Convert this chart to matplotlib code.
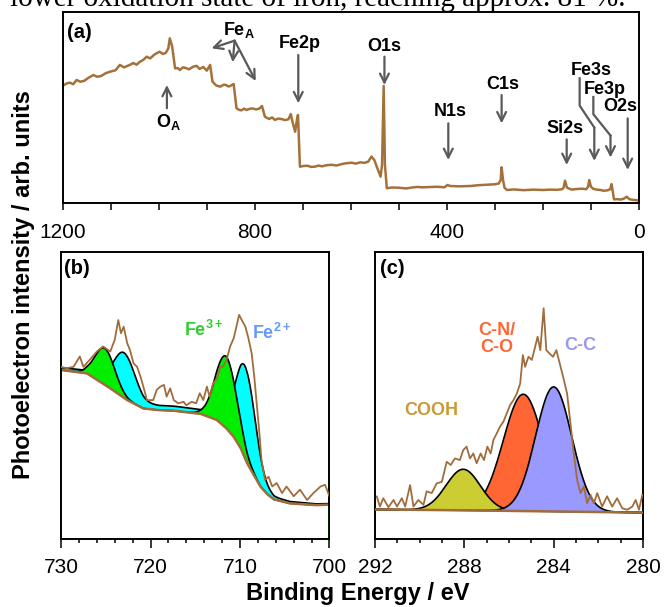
import numpy as np
import matplotlib
matplotlib.use('Agg')
import matplotlib.pyplot as plt
from matplotlib.ticker import MultipleLocator

plt.rcParams['font.family'] = ['Liberation Sans', 'DejaVu Sans']
plt.rcParams['mathtext.fontset'] = 'custom'
plt.rcParams['mathtext.rm'] = 'Liberation Sans'
plt.rcParams['mathtext.bf'] = 'Liberation Sans:bold'

# ---------------- data: (a) survey spectrum ----------------
survey_be = [1200, 1192, 1185, 1178, 1171, 1163, 1155, 1146, 1136, 1128,
             1120, 1110, 1102, 1090, 1081, 1072, 1065, 1058, 1053, 1046,
             1040, 1032, 1025, 1018, 1010, 1004, 998, 991, 985, 980,
             977, 972, 966, 960, 956, 950, 945, 937, 928, 921,
             915, 907, 900, 893, 888, 880, 872, 865, 860, 855,
             851, 844, 838, 833, 828, 822, 817, 811, 805, 797,
             790, 785, 779, 775, 770, 764, 758, 751, 745, 737,
             730, 725, 721, 716, 712, 710, 706, 698, 690, 683,
             675, 667, 660, 650, 640, 630, 620, 610, 598, 590,
             580, 572, 564, 557, 551, 546, 538, 535, 531.6, 529,
             525, 515, 500, 485, 470, 460, 452, 440, 420, 405,
             399, 393, 375, 350, 335, 320, 310, 300, 292, 288,
             286, 283, 280, 275, 260, 240, 220, 200, 185, 170,
             160, 157, 154, 150, 140, 130, 118, 110, 106, 103.5,
             100, 95, 88, 80, 74, 66, 60, 57, 54, 52,
             45, 38, 32, 25.6, 20, 12, 5, 0]
survey_int = [61.3, 62.6, 63.0, 62.2, 64.4, 63.5, 64.0, 65.6, 67.0, 66.1,
              66.5, 68.0, 68.7, 69.5, 72.3, 71.0, 71.8, 72.6, 73.3, 72.4,
              73.8, 75.0, 76.6, 75.7, 77.5, 78.5, 79.2, 78.0, 78.7, 81.0,
              86.2, 82.0, 70.5, 70.6, 69.6, 71.0, 70.8, 70.0, 71.4, 71.8,
              70.2, 71.2, 69.3, 72.3, 63.5, 61.5, 60.9, 61.9, 61.8, 61.0,
              61.3, 62.3, 49.6, 48.8, 48.5, 49.4, 48.7, 49.3, 49.5, 49.0,
              49.5, 50.8, 45.2, 44.6, 44.0, 44.8, 43.5, 44.2, 44.0, 43.4,
              43.8, 46.6, 42.0, 37.3, 44.0, 46.1, 19.0, 19.4, 19.5, 18.9,
              19.0, 19.6, 19.2, 19.8, 20.0, 19.6, 20.3, 20.8, 21.1, 20.6,
              21.3, 21.0, 21.6, 24.3, 22.5, 19.0, 13.8, 20.0, 61.3, 20.0,
              7.7, 8.1, 8.0, 7.6, 8.2, 8.4, 8.2, 8.3, 8.5, 8.2,
              9.4, 8.9, 8.7, 8.9, 9.3, 9.5, 9.6, 9.8, 10.2, 12.0,
              18.7, 12.0, 8.0, 6.8, 7.1, 6.7, 7.0, 6.8, 7.0, 6.9,
              7.2, 8.0, 11.7, 8.0, 7.0, 7.3, 7.5, 7.2, 8.5, 12.0,
              8.5, 7.4, 7.0, 6.8, 6.4, 6.6, 7.2, 9.9, 5.0, 1.9,
              2.0, 1.8, 2.2, 3.3, 2.0, 1.6, 1.5, 1.2]

# labelled arrows of (a): label text, label position, arrow x, arrow tail y, arrow tip y
peak_labels = ['Fe2p', 'O1s', 'N1s', 'C1s', 'Si2s', 'O2s']
peak_label_x = [706, 531, 394, 284, 154, 39.6]
peak_label_y = [83.6, 81.8, 47.8, 61.8, 39.1, 50.4]
peak_arrow_x = [709.4, 530, 397, 286, 150.5, 23.5]
peak_arrow_tail = [77.5, 76.6, 41.7, 56.5, 33.3, 44.3]
peak_arrow_tip = [52.2, 61.8, 22.5, 41.7, 19.9, 17.3]

# ---------------- data: (b) Fe2p region ----------------
fe_be = [730.0, 729.4, 728.6, 727.9, 727.5, 726.8, 726.0, 725.3, 724.5, 724.0, 723.6, 723.3,
         723.0, 722.6, 722.3, 721.9, 721.5, 721.1, 720.8, 720.4, 719.7, 719.3, 718.9, 718.5,
         718.2, 717.8, 717.4, 716.9, 716.3, 716.0, 715.4, 714.9, 714.5, 714.1, 713.7, 713.4,
         713.0, 712.6, 712.2, 711.9, 711.5, 711.1, 710.7, 710.4, 710.1, 709.8, 709.4, 709.1,
         708.7, 708.4, 708.1, 707.8, 707.6, 707.2, 706.8, 706.4, 705.9, 705.3, 704.8, 704.0,
         703.3, 702.5, 701.8, 701.0, 700.5, 700.0]
fe_int = [60.0, 59.5, 60.0, 63.6, 60.0, 62.4, 65.3, 67.1, 65.3, 69.4, 76.3, 71.7,
          74.0, 68.2, 65.9, 61.2, 60.0, 56.4, 53.1, 48.4, 48.4, 52.0, 53.1, 53.7,
          49.6, 52.5, 48.4, 47.3, 47.8, 46.6, 47.8, 47.3, 50.8, 48.4, 53.1, 49.6,
          54.2, 55.9, 60.0, 60.0, 62.4, 67.1, 70.0, 74.0, 78.1, 76.3, 74.0, 70.5,
          64.8, 56.4, 46.1, 35.7, 27.5, 20.6, 21.7, 18.3, 19.5, 16.0, 18.3, 14.9,
          17.2, 13.6, 16.0, 18.3, 18.9, 14.9]
fe_bg_be = [730.0, 727.1, 724.5, 722.6, 720.8, 719.0, 717.4, 714.4, 712.6, 711.5, 710.7,
            709.9, 709.2, 708.4, 707.7, 706.9, 706.2, 704.4, 701.4, 700.0]
fe_bg_int = [58.9, 57.7, 52.5, 48.4, 45.5, 44.9, 44.7, 43.6, 41.5, 38.5, 35.6,
             31.5, 26.4, 22.0, 18.2, 15.5, 13.8, 12.4, 11.8, 12.0]
fe3_center = [725.1, 711.55]
fe3_height = [12.7, 25.0]
fe3_fwhm = [2.6, 2.8]
fe2_center = [722.95, 709.4, 718.0]
fe2_height = [14.3, 31.0, 1.6]
fe2_fwhm = [2.8, 2.6, 24.0]

# ---------------- data: (c) C1s region ----------------
c_be = [291.92, 291.78, 291.63, 291.40, 291.17, 291.02, 290.80, 290.65, 290.43, 290.28, 290.06,
        289.83, 289.69, 289.46, 289.24, 289.01, 288.79, 288.61, 288.42, 288.20, 288.05, 287.90,
        287.75, 287.60, 287.45, 287.27, 287.12, 286.97, 286.82, 286.70, 286.55, 286.40, 286.25,
        286.10, 285.95, 285.80, 285.65, 285.50, 285.38, 285.28, 285.13, 284.98, 284.83, 284.72,
        284.60, 284.45, 284.33, 284.18, 284.03, 283.88, 283.73, 283.58, 283.40, 283.25, 283.10,
        282.95, 282.80, 282.65, 282.50, 282.35, 282.20, 282.05, 281.83, 281.61, 281.38, 281.16,
        280.93, 280.71, 280.48, 280.33, 280.18, 280.03]
c_int = [14.8, 11.3, 14.2, 11.1, 13.6, 11.3, 14.2, 11.3, 18.8, 11.3, 13.6,
         11.9, 16.6, 16.0, 19.4, 19.9, 26.9, 25.8, 28.1, 27.5, 31.0, 32.2,
         28.1, 29.8, 26.4, 29.8, 27.5, 32.2, 29.8, 34.5, 36.8, 39.2, 40.9,
         43.8, 46.7, 48.4, 50.7, 54.2, 64.1, 60.0, 63.5, 62.4, 67.0, 70.5,
         65.8, 80.4, 65.8, 64.6, 63.5, 65.8, 61.2, 56.6, 50.7, 40.3, 29.8,
         20.6, 16.0, 18.3, 12.5, 15.4, 12.5, 16.0, 11.3, 14.9, 11.3, 14.2,
         10.7, 10.2, 11.3, 13.6, 10.2, 15.4]
c_bg_be = [292.0, 288.0, 285.0, 282.0, 280.0]
c_bg_int = [10.3, 10.0, 9.7, 9.4, 9.2]
c_names = ['COOH', 'C-N/\nC-O', 'C-C']
c_center = [288.05, 285.36, 284.0]
c_height = [14.3, 40.7, 43.4]
c_fwhm = [1.8, 2.1, 1.9]

# ---------------- styles ----------------
BROWN = '#A5713A'
DBROWN = '#A06C3C'
ARROW = '#595959'
c_fill = ['#CCCC33', '#FF6633', '#9999FF']
c_text = ['#CC9933', '#FF6633', '#9999EE']


def gauss(x, c, h, w):
    s = w / 2.3548
    return h * np.exp(-0.5 * ((x - c) / s) ** 2)


fig = plt.figure(figsize=(6.64, 6.07), dpi=100)
axa = fig.add_axes([0.0944, 0.6656, 0.8679, 0.3146])
axb = fig.add_axes([0.0919, 0.1120, 0.4043, 0.4728])
axc = fig.add_axes([0.5648, 0.1120, 0.4036, 0.4728])

for ax in (axa, axb, axc):
    for sp in ax.spines.values():
        sp.set_linewidth(1.4)
    ax.set_yticks([])
    ax.set_ylim(0, 100)

# ---- (a)
axa.plot(survey_be, survey_int, color=BROWN, lw=1.8, solid_joinstyle='round')
axa.set_xlim(1200, 0)
axa.set_xticks([1200, 800, 400, 0])
axa.xaxis.set_minor_locator(MultipleLocator(100))
axa.tick_params(axis='x', which='both', direction='out', length=5, width=1.1,
                labelsize=15, pad=9.5)
axa.text(0.007, 0.945, '(a)', transform=axa.transAxes, fontsize=14.5,
         fontweight='bold', ha='left', va='top')

akw = dict(arrowstyle='->', color=ARROW, lw=1.6, shrinkA=0, shrinkB=0, mutation_scale=16)
for lab, lx, ly, ax_, t0, t1 in zip(peak_labels, peak_label_x, peak_label_y,
                                     peak_arrow_x, peak_arrow_tail, peak_arrow_tip):
    axa.text(lx, ly, lab, fontsize=13, fontweight='bold', ha='center', va='center')
    axa.annotate('', xy=(ax_, t1), xytext=(ax_, t0), arrowprops=akw)

# O_A
axa.text(980, 42.6, r'$\mathbf{O_A}$', fontsize=13, ha='center', va='center')
axa.annotate('', xy=(983, 61.8), xytext=(983, 49.6), arrowprops=akw)
# Fe_A
axa.text(832, 90.5, r'$\mathbf{Fe_A}$', fontsize=13, ha='center', va='center')
for tip in [(890, 81.0), (846, 73.7), (798, 63.9)]:
    axa.annotate('', xy=tip, xytext=(842, 85.0), arrowprops=akw)
# Fe3s / Fe3p bent arrows
axa.text(98.5, 69.6, 'Fe3s', fontsize=13, fontweight='bold', ha='center', va='center')
axa.plot([123.5, 123.5, 93], [65.3, 51.0, 39.5], color=ARROW, lw=1.6)
axa.annotate('', xy=(93, 22.0), xytext=(93, 39.5), arrowprops=akw)
axa.text(70.8, 59.5, 'Fe3p', fontsize=13, fontweight='bold', ha='center', va='center')
axa.plot([95, 95, 59.3], [55.5, 46.5, 35.3], color=ARROW, lw=1.6)
axa.annotate('', xy=(59.3, 23.8), xytext=(59.3, 35.3), arrowprops=akw)

# ---- (b)
eb = np.linspace(700, 730, 901)
bg_b = np.interp(eb, fe_bg_be[::-1], fe_bg_int[::-1])
cyan = sum(gauss(eb, c, h, w) for c, h, w in zip(fe2_center, fe2_height, fe2_fwhm))
green = sum(gauss(eb, c, h, w) for c, h, w in zip(fe3_center, fe3_height, fe3_fwhm))
axb.fill_between(eb, bg_b, bg_b + cyan, color='#00FFFF', lw=0, zorder=2)
axb.plot(eb, bg_b + cyan, color='black', lw=1.2, zorder=2.1)
axb.fill_between(eb, bg_b, bg_b + green, color='#00EE00', lw=0, zorder=2.2)
axb.plot(eb, bg_b + green, color='black', lw=1.2, zorder=2.3)
axb.plot(fe_bg_be, fe_bg_int, color=DBROWN, lw=1.8, zorder=2.5)
axb.plot(fe_be, fe_int, color=DBROWN, lw=1.3, zorder=3)
axb.plot([700.05, 700.05], [0.6, 12.0], color='#00CC00', lw=0.9, zorder=3)
axb.set_xlim(730, 700)
axb.set_xticks([730, 720, 710, 700])
axb.xaxis.set_minor_locator(MultipleLocator(2))
axb.tick_params(axis='x', which='major', direction='out', length=6.5, width=1.1,
                labelsize=15, pad=7.5)
axb.tick_params(axis='x', which='minor', direction='out', length=3.2, width=1.1)
axb.text(0.01, 0.975, '(b)', transform=axb.transAxes, fontsize=14.5,
         fontweight='bold', ha='left', va='top')
axb.text(714.1, 72.8, r'$\mathbf{Fe^{3+}}$', color='#33CC33', fontsize=13,
         ha='center', va='center')
axb.text(706.4, 71.9, r'$\mathbf{Fe^{2+}}$', color='#6699FF', fontsize=13,
         ha='center', va='center')

# ---- (c)
ec = np.linspace(280, 292, 601)
bg_c = np.interp(ec, c_bg_be[::-1], c_bg_int[::-1])
comps = [gauss(ec, c, h, w) for c, h, w in zip(c_center, c_height, c_fwhm)]
for i, z in zip([1, 0, 2], [2.0, 2.2, 2.4]):
    axc.fill_between(ec, bg_c, bg_c + comps[i], color=c_fill[i], lw=0, zorder=z)
    axc.plot(ec, bg_c + comps[i], color='black', lw=1.2, zorder=z + 0.05)
axc.plot(c_bg_be, c_bg_int, color=DBROWN, lw=1.8, zorder=2.6)
axc.plot(c_be, c_int, color=DBROWN, lw=1.3, zorder=3)
axc.set_xlim(292, 280)
axc.set_xticks([292, 288, 284, 280])
axc.xaxis.set_minor_locator(MultipleLocator(1))
axc.tick_params(axis='x', which='major', direction='out', length=6.5, width=1.1,
                labelsize=15, pad=7.5)
axc.tick_params(axis='x', which='minor', direction='out', length=3.2, width=1.1)
axc.text(0.02, 0.975, '(c)', transform=axc.transAxes, fontsize=14.5,
         fontweight='bold', ha='left', va='top')
c_lab_x = [289.5, 286.55, 282.8]
c_lab_y = [44.7, 69.7, 67.6]
for name, lx, ly, col in zip(c_names, c_lab_x, c_lab_y, c_text):
    axc.text(lx, ly, name, color=col, fontsize=13, fontweight='bold',
             ha='center', va='center', linespacing=0.95, multialignment='center')

# ---- figure texts
fig.text(24 / 664, 0.5305, 'Photoelectron intensity / arb. units', rotation=90,
         fontsize=17, fontweight='bold', ha='center', va='center')
fig.text(357.5 / 664, 1 - 600 / 607, 'Binding Energy / eV', fontsize=17,
         fontweight='bold', ha='center', va='baseline')
fig.text(10 / 664, 1 - 6 / 607, 'lower oxidation state of iron, reaching approx. 81 %.',
         fontsize=21, family=['Liberation Serif', 'DejaVu Serif'], ha='left', va='baseline')

fig.savefig('out.png', dpi=100)
